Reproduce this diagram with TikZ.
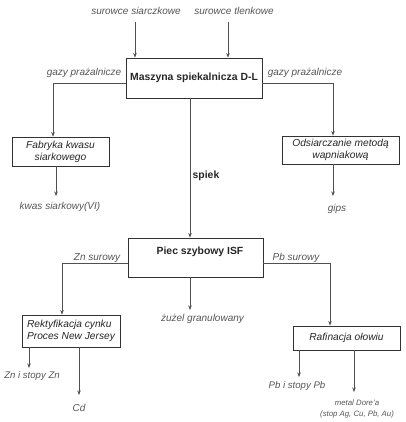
\documentclass[tikz,border=0pt]{standalone}
\usepackage{fontspec}
\setmainfont{Liberation Sans}
\usetikzlibrary{arrows.meta}
\definecolor{lab}{HTML}{555555}
\definecolor{ln}{HTML}{505050}
\definecolor{bx}{HTML}{333333}
\begin{document}
\begin{tikzpicture}[x=1pt,y=-1pt,
  box/.style={draw=bx,line width=0.9pt,inner sep=0pt,text=black!85},
  btxt/.style={font=\itshape\fontsize{10.2}{12}\selectfont},
  bold/.style={font=\bfseries\fontsize{10.4}{12}\selectfont,text=black!85,inner sep=0pt},
  lbl/.style={text=lab,font=\itshape\fontsize{10}{12}\selectfont,inner sep=0pt},
  arr/.style={draw=ln,line width=0.6pt,-{Stealth[length=4.5pt,width=3.5pt]}},
  lin/.style={draw=ln,line width=0.6pt}]
\useasboundingbox (0,0) rectangle (405,422);
% labels top
\node[lbl] (s1) at (136,11) {surowce siarczkowe};
\node[lbl] (s2) at (234,11) {surowce tlenkowe};
% main box
\node[box,minimum width=136pt,minimum height=40pt,bold] (m) at (194,78) {Maszyna spiekalnicza D-L};
\draw[arr] (135,22) -- (m.north -| 135,0);
\draw[arr] (228,22) -- (m.north -| 228,0);
% side boxes
\node[box,btxt,minimum width=97pt,minimum height=29pt,align=center] (f) at (60.5,151.5) {Fabryka kwasu\\ siarkowego};
\node[box,btxt,minimum width=117pt,minimum height=28pt,align=center] (o) at (340.5,150) {Odsiarczanie metodą\\ wapniakową};
\draw[arr] ([yshift=-5pt]m.west) -| ([xshift=-7.5pt]f.north);
\draw[arr] ([yshift=-5pt]m.east) -| ([xshift=-7.5pt]o.north);
\node[lbl] (g1) at (84,73) {gazy prażalnicze};
\node[lbl] (g2) at (305,73) {gazy prażalnicze};
% outputs of side boxes
\node[lbl] (k) at (60,207) {kwas siarkowy(VI)};
\node[lbl] (gp) at (337,209) {gips};
\coordinate (kend) at (56,196);
\coordinate (gend) at (333,196);
\draw[arr] (f.south -| kend) -- (kend);
\draw[arr] (o.south -| gend) -- (gend);
% ISF
\node[box,minimum width=135pt,minimum height=39pt] (isf) at (195.5,257.5) {};
\node[bold] (isft) at (200,252) {Piec szybowy ISF};
\draw[arr] (m.south -| 190,0) -- (isf.north -| 190,0);
\node[bold] (sp) at (206,176) {spiek};
% lower boxes
\node[box,btxt,minimum width=98pt,minimum height=32pt,align=left] (r) at (71,331) {Rektyfikacja cynku\\ Proces New Jersey};
\node[box,btxt,minimum width=107pt,minimum height=24pt] (p) at (346.5,338) {Rafinacja ołowiu};
\draw[arr] ([yshift=-6pt]isf.west) -| (r.north -| 62,0);
\draw[arr] ([yshift=-6pt]isf.east) -| (p.north -| 330,0);
\node[lbl] (zn) at (97,258) {Zn surowy};
\node[lbl] (pb) at (296,258) {Pb surowy};
\node[lbl] (zz) at (202.5,319) {żużel granulowany};
\coordinate (zend) at (190,310);
\draw[arr] (isf.south -| zend) -- (zend);
% leaves
\node[lbl,font=\itshape\fontsize{9.6}{12}\selectfont] (z1) at (32,376) {Zn i stopy Zn};
\node[lbl] (cd) at (79,408) {Cd};
\node[lbl,font=\itshape\fontsize{9.6}{12}\selectfont] (p1) at (297,386) {Pb i stopy Pb};
\node[lbl,align=center,font=\itshape\fontsize{7.8}{11.5}\selectfont] (md) at (357,409) {metal Dore'a\\ (stop Ag, Cu, Pb, Au)};
\coordinate (z1e) at (29,368);
\coordinate (cde) at (79,395);
\coordinate (p1e) at (299,377);
\coordinate (mde) at (354,392);
\draw[arr] (r.south -| z1e) -- (z1e);
\draw[arr] (r.south -| cde) -- (cde);
\draw[arr] (p.south -| p1e) -- (p1e);
\draw[arr] (p.south -| mde) -- (mde);
\end{tikzpicture}
\end{document}
